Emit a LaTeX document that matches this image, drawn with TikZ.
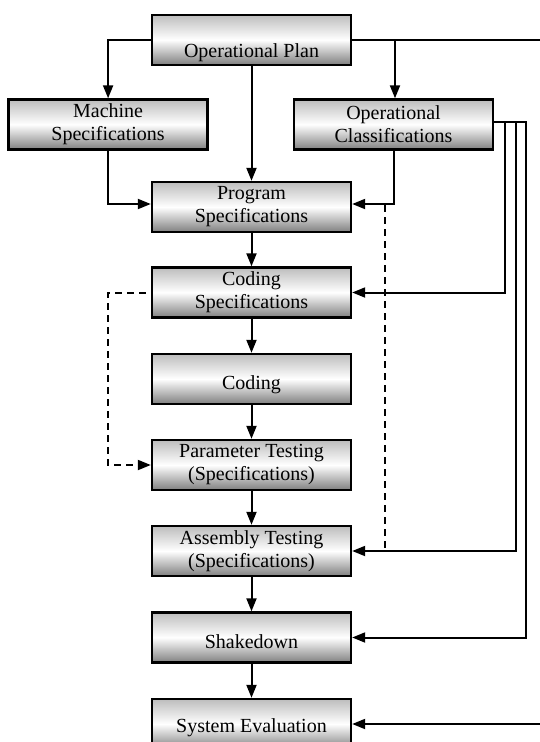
\documentclass[tikz,border=0pt]{standalone}
\usepackage{fontspec}
\setmainfont{Liberation Serif}
\usetikzlibrary{arrows.meta}
% vertical fill of the boxes: dark at the bottom, white in the middle, light grey on top
\pgfdeclareverticalshading{boxfill}{100bp}{%
  color(0bp)=(black!50); color(25bp)=(black!50);
  color(50bp)=(white);
  color(75bp)=(black!26); color(100bp)=(black!26)}
\tikzset{
  stagebox/.style={draw=black, line width=2.4pt, shading=boxfill,
    minimum width=199pt, minimum height=50pt, inner sep=0pt,
    align=center, font=\fontsize{20}{23}\selectfont},
  caption/.style={inner sep=0pt, font=\fontsize{20}{23}\selectfont},
  flow/.style={line width=2pt, -{Triangle[length=13pt,width=10pt]}},
  plainline/.style={line width=2pt},
  dashflow/.style={line width=2pt, dash pattern=on 7pt off 5pt},
}
\begin{document}
\begin{tikzpicture}[x=1pt, y=1pt]
\useasboundingbox (0,0) rectangle (540,-742);
\fill[white] (0,0) rectangle (540,-742);

% boxes
\node[stagebox] (op) at (251.5,-39.75) {};
\node[caption] at (251.5,-53) {Operational Plan};
\node[stagebox] (ms) at (108.1,-124.5) {Machine\\Specifications};
\node[stagebox] (oc) at (393.5,-124.5) {Operational\\Classifications};
\node[stagebox] (ps) at (251.5,-207) {Program\\Specifications};
\node[stagebox] (cs) at (251.5,-292.5) {Coding\\Specifications};
\node[stagebox] (cd) at (251.5,-379) {};
\node[caption] at (251.5,-385) {Coding};
\node[stagebox] (pt) at (251.5,-465) {Parameter Testing\\(Specifications)};
\node[stagebox] (at) at (251.5,-551) {Assembly Testing\\(Specifications)};
\node[stagebox] (sh) at (251.5,-637.5) {};
\node[caption] at (251.5,-641.5) {Shakedown};
\node[stagebox] (se) at (251.5,-724) {};
\node[caption] at (251.5,-728) {System Evaluation};

% lines leaving and entering at the right edge
\coordinate (outtop) at (540,-39.75);
\coordinate (inbottom) at (540,-724);
\coordinate (split) at (395,-39.75);

% from the operational plan
\draw[flow] (op.west) -| (ms.north);
\draw[plainline] (op.east) -- (outtop);
\draw[flow] (split) -- (split |- oc.north);
\draw[flow] (op.south) -- (ps.north);

% into the program specifications
\draw[flow] (ms.south) |- ([yshift=3pt]ps.west);
\draw[flow] (oc.south) |- ([yshift=3pt]ps.east);

% main chain
\draw[flow] (ps.south) -- (cs.north);
\draw[flow] (cs.south) -- (cd.north);
\draw[flow] (cd.south) -- (pt.north);
\draw[flow] (pt.south) -- (at.north);
\draw[flow] (at.south) -- (sh.north);
\draw[flow] (sh.south) -- (se.north);

% feeds from the operational classifications
\draw[flow] ([yshift=2.5pt]oc.east) -- ++(10.5,0) |- (cs.east);
\draw[flow] ([yshift=2.5pt]oc.east) -- ++(21.5,0) |- (at.east);
\draw[flow] ([yshift=2.5pt]oc.east) -- ++(32,0) |- (sh.east);

% dashed links
\coordinate (dtop) at (385,-205);
\draw[dashflow] (dtop) -- (dtop |- at.east);
\draw[dashflow, -{Triangle[length=13pt,width=10pt]}]
  ([xshift=-5pt]cs.west) -- (108.3,-292.5) |- (pt.west);

% closing input to the system evaluation
\draw[flow] (inbottom) -- (se.east);
\end{tikzpicture}
\end{document}
